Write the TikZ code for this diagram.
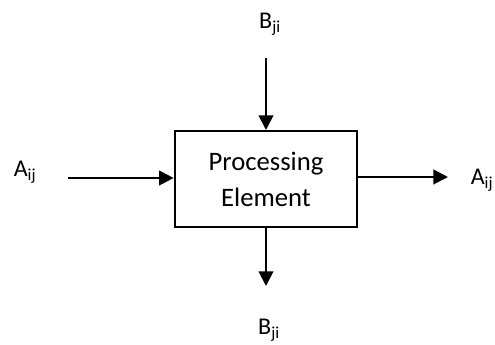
\documentclass[tikz,border=0pt]{standalone}
\usepackage{fontspec}
\setmainfont{Carlito}
\usetikzlibrary{arrows.meta, positioning}
\tikzset{
    pebox/.style={draw, line width=1.5pt, minimum width=137pt, minimum height=72pt,
        align=center, font=\fontsize{20}{27}\selectfont},
    flow/.style={-{Triangle[length=11pt, width=11pt]}, line width=1.5pt},
    lbl/.style={font=\fontsize{18}{20}\selectfont, inner sep=0pt}
}

\begin{document}
\begin{tikzpicture}[x=0.75pt, y=-0.75pt]
    % =========================================
    % 1. Canvas
    % =========================================
    \useasboundingbox (0,0) rectangle (495,345);

    % =========================================
    % 2. Processing element
    % =========================================
    \node[pebox] (pe) at (266,179) {Processing\\Element};

    % =========================================
    % 3. Labels and free ends
    % =========================================
    \node[lbl] (aIn)  at (25,172)  {A\textsubscript{ij}};
    \node[lbl] (aOut) at (482,180) {A\textsubscript{ij}};
    \node[lbl] (bIn)  at (270,24)  {B\textsubscript{ji}};
    \node[lbl] (bOut) at (269,330) {B\textsubscript{ji}};

    \coordinate (aStart) at (68,178);
    \coordinate (aEnd)   at (448,177);
    \coordinate (bStart) at (266,58);
    \coordinate (bEnd)   at (266,286);

    % =========================================
    % 4. Arrows
    % =========================================
    \draw[flow] (aStart) -- (aStart -| pe.west);
    \draw[flow] (pe.east |- aEnd) -- (aEnd);
    \draw[flow] (bStart) -- (pe.north);
    \draw[flow] (pe.south) -- (bEnd);
\end{tikzpicture}
\end{document}
